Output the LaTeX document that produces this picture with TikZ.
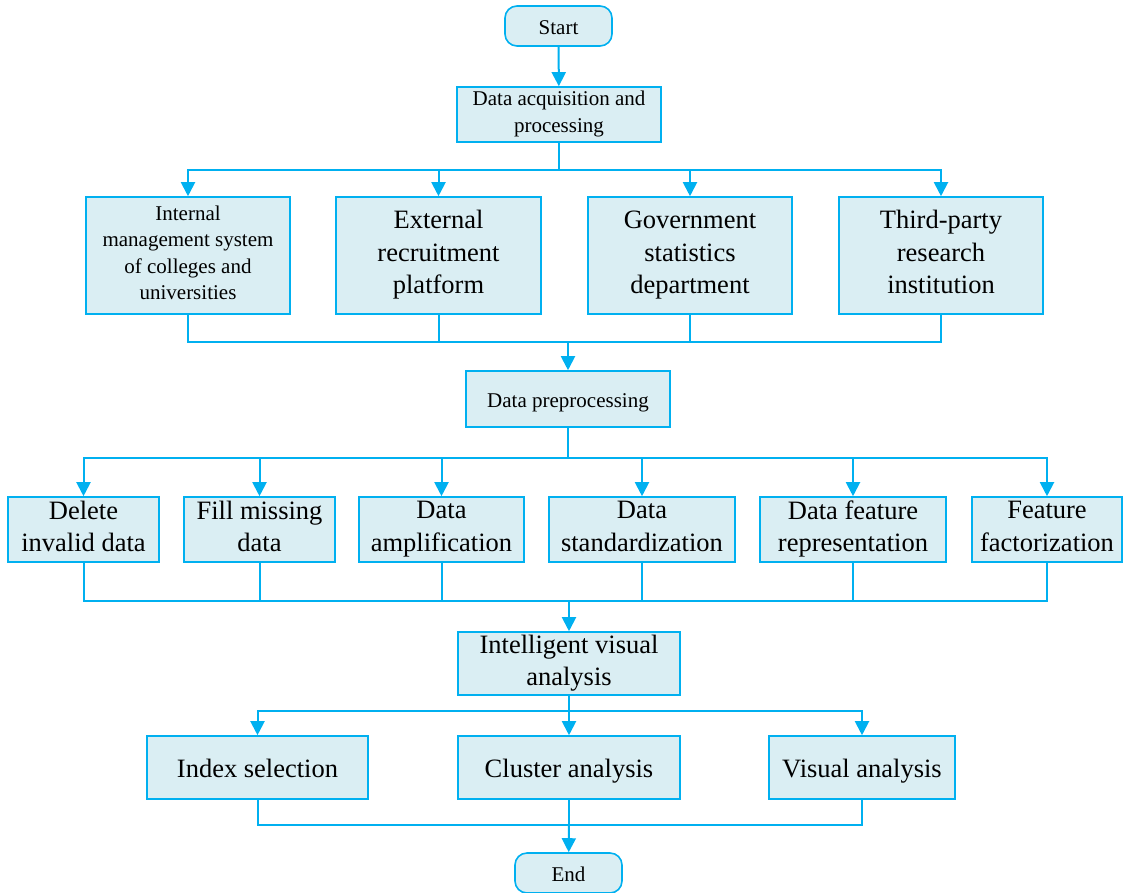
\documentclass[tikz,border=0pt]{standalone}
\usepackage{fontspec}
\setmainfont{Liberation Serif}
\usepackage{tikz}
\usetikzlibrary{arrows.meta, positioning, calc}

\definecolor{flowcyan}{RGB}{0,176,240}
\definecolor{boxfill}{RGB}{218,238,243}

\newcommand{\topstrut}{\rule{0pt}{0.8\baselineskip}}
\newcommand{\botstrut}{\rule[-0.2\baselineskip]{0pt}{0.2\baselineskip}}

\begin{document}
\begin{tikzpicture}[x=1pt, y=-1pt]
    \tikzset{
        procbox/.style={
                draw=flowcyan, line width=1.6pt, fill=boxfill, inner sep=0pt,
                align=center, font=\fontsize{26.5}{32.5}\selectfont,
                execute at begin node=\topstrut, execute at end node=\botstrut
            },
        smallbox/.style={
                procbox, font=\fontsize{21}{27}\selectfont
            },
        termbox/.style={
                smallbox, rounded corners=12pt, minimum width=107pt, minimum height=40pt
            },
        flowline/.style={
                draw=flowcyan, line width=2pt
            },
        flowarrow/.style={
                flowline, -{Triangle[width=14pt, length=14pt]}
            }
    }

    \useasboundingbox (0,0) rectangle (1130,892);

    % start and acquisition
    \node[termbox] (start) at (558.5, 26) {Start};
    \node[smallbox, minimum width=204pt, minimum height=55pt] (acq) at (559, 114.5) {Data acquisition and\\processing};

    % data sources
    \node[smallbox, minimum width=204pt, minimum height=117pt, font=\fontsize{21}{26.5}\selectfont] (inner) at (188, 255.5) {Internal\\management system\\of colleges and\\universities};
    \node[procbox, minimum width=205pt, minimum height=117pt] (recruit) at (438.5, 255.5) {External\\recruitment\\platform};
    \node[procbox, minimum width=204pt, minimum height=117pt] (govstat) at (690, 255.5) {Government\\statistics\\department};
    \node[procbox, minimum width=204pt, minimum height=117pt] (thirdparty) at (941, 255.5) {Third-party\\research\\institution};

    \node[smallbox, minimum width=204pt, minimum height=56pt] (prep) at (568, 399) {Data preprocessing};

    % preprocessing steps
    \node[procbox, minimum width=151pt, minimum height=65pt] (delinv) at (83.5, 529.5) {Delete\\invalid data};
    \node[procbox, minimum width=151pt, minimum height=65pt] (fillmiss) at (259.5, 529.5) {Fill missing\\data};
    \node[procbox, minimum width=165pt, minimum height=65pt] (amplify) at (441.5, 529.5) {Data\\amplification};
    \node[procbox, minimum width=186pt, minimum height=65pt] (standard) at (642, 529.5) {Data\\standardization};
    \node[procbox, minimum width=186pt, minimum height=65pt] (featrep) at (853, 529.5) {Data feature\\representation};
    \node[procbox, minimum width=150pt, minimum height=65pt] (factor) at (1047, 529.5) {Feature\\factorization};

    \node[procbox, minimum width=222pt, minimum height=63pt] (intvis) at (569, 663.5) {Intelligent visual\\analysis};

    % analysis
    \node[procbox, minimum width=221pt, minimum height=63pt] (index) at (257.5, 767.5) {Index selection};
    \node[procbox, minimum width=222pt, minimum height=63pt] (cluster) at (569, 767.5) {Cluster analysis};
    \node[procbox, minimum width=186pt, minimum height=63pt] (visana) at (862, 767.5) {Visual analysis};

    \node[termbox] (finish) at (568.5, 873) {End};

    % junctions
    \coordinate (split1) at (559, 170);
    \coordinate (merge1) at (568, 342);
    \coordinate (split2) at (568, 458);
    \coordinate (merge2) at (569, 601);
    \coordinate (split3) at (569, 711);
    \coordinate (merge3) at (569, 825);

    % connectors
    \draw[flowarrow] (start) -- (acq);
    \draw[flowline] (acq) -- (split1);
    \foreach \n in {inner, recruit, govstat, thirdparty} {
        \draw[flowarrow] (split1) -| (\n);
        \draw[flowline] (\n.south) |- (merge1);
    }
    \draw[flowarrow] (merge1) -- (prep);
    \draw[flowline] (prep) -- (split2);
    \foreach \n in {delinv, fillmiss, amplify, standard, featrep, factor} {
        \draw[flowarrow] (split2) -| (\n);
        \draw[flowline] (\n.south) |- (merge2);
    }
    \draw[flowarrow] (merge2) -- (intvis);
    \draw[flowline] (intvis) -- (split3);
    \foreach \n in {index, cluster, visana} {
        \draw[flowarrow] (split3) -| (\n);
        \draw[flowline] (\n.south) |- (merge3);
    }
    \draw[flowarrow] (merge3) -- (finish);
\end{tikzpicture}
\end{document}
